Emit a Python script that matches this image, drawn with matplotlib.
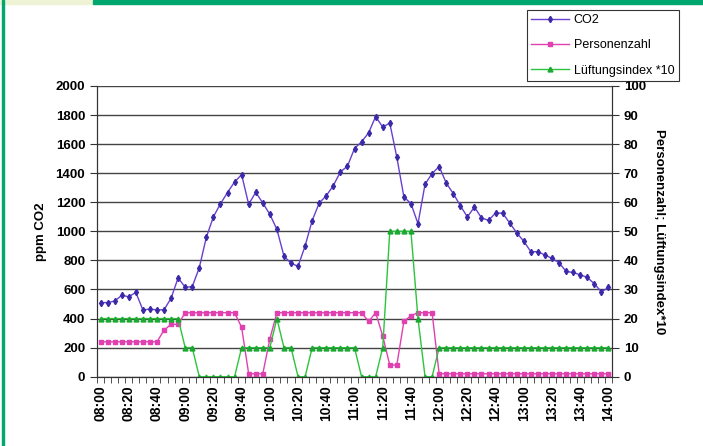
import numpy as np
import matplotlib.pyplot as plt
import matplotlib as mpl
from matplotlib import patches

mpl.rcParams['font.family'] = ['Liberation Sans', 'DejaVu Sans']

# categories: every 5 minutes from 08:00 to 14:00
times = ['%02d:%02d' % (8 + m // 60, m % 60) for m in range(0, 361, 5)]

co2 = [510, 510, 520, 560, 550, 580, 460, 465, 460, 460,
       540, 680, 615, 620, 750, 960, 1100, 1190, 1267, 1340,
       1390, 1186, 1269, 1195, 1117, 1014, 830, 780, 760, 900,
       1074, 1195, 1245, 1315, 1409, 1448, 1570, 1616, 1678, 1790,
       1717, 1745, 1510, 1237, 1191, 1053, 1324, 1398, 1446, 1333,
       1260, 1177, 1099, 1168, 1092, 1076, 1126, 1126, 1057, 990,
       931, 860, 860, 837, 814, 784, 724, 717, 701, 683,
       639, 584, 614]

personen = [12, 12, 12, 12, 12, 12, 12, 12, 12, 16,
            18, 18, 22, 22, 22, 22, 22, 22, 22, 22,
            17, 1, 1, 1, 13, 22, 22, 22, 22, 22,
            22, 22, 22, 22, 22, 22, 22, 22, 19, 22,
            14, 4, 4, 19, 21, 22, 22, 22] + [1] * 25

lueftung = [20] * 12 + [10, 10] + [0] * 6 + [10] * 5 + [20, 10, 10, 0, 0] \
           + [10] * 7 + [0, 0, 0, 10, 50, 50, 50, 50, 20, 0, 0] + [10] * 25

x = np.arange(len(times))

fig = plt.figure(figsize=(7.03, 4.46), dpi=100)
ax = fig.add_axes([97/703, 1-376.7/446, (612-97)/703, (376.7-86)/446])
ax2 = ax.twinx()

c_co2 = '#6a3fd0'
c_pers = '#e040b0'
c_lue = '#2cc43c'

l1, = ax.plot(x, co2, color=c_co2, lw=1, marker='d', ms=3.2, mfc='#3a2aa8', mec='#3a2aa8', label='CO2')
l2, = ax2.plot(x, personen, color=c_pers, lw=1, marker='s', ms=3.5, mfc=c_pers, mec=c_pers, label='Personenzahl')
l3, = ax2.plot(x, lueftung, color=c_lue, lw=1, marker='^', ms=3.5, mfc='#1aa830', mec='#1aa830', label='Lüftungsindex *10')

ax.set_ylim(0, 2000)
ax2.set_ylim(0, 100)
ax.set_xlim(-0.5, len(times) - 0.5)
ax.set_yticks(np.arange(0, 2001, 200))
ax2.set_yticks(np.arange(0, 101, 10))
ax.yaxis.grid(True, color='#444444', lw=1)
ax.set_axisbelow(True)

ax.set_xticks(x[::4])
ax.set_xticklabels(times[::4], rotation=90, fontsize=10, fontweight='bold')
ax.set_xticks(np.arange(-0.5, len(times), 1), minor=True)
ax.tick_params(axis='x', which='major', length=0, pad=6)
ax.tick_params(axis='x', which='minor', length=4, direction='out', color='#333333')
for a in (ax, ax2):
    a.tick_params(axis='y', length=5, direction='out', labelsize=9.5, color='#333333')
    for lab in a.get_yticklabels():
        lab.set_fontweight('bold')
    a.spines['top'].set_visible(False)
    for s in ('left', 'right', 'bottom'):
        a.spines[s].set_color('#333333')

ax.set_ylabel('ppm CO2', fontsize=9.5, fontweight='bold', labelpad=6)
ax2.set_ylabel('Personenzahl; Lüftungsindex*10', fontsize=9.5, fontweight='bold', rotation=270, labelpad=14)

leg = fig.legend(handles=[l1, l2, l3], loc='upper left', bbox_to_anchor=(527/703, 1-10/446),
                 fontsize=9, frameon=True, fancybox=False, edgecolor='black',
                 handlelength=3.0, handletextpad=0.4, borderpad=0.35, labelspacing=1.05,
                 borderaxespad=0)
leg.get_frame().set_linewidth(0.8)

# page decoration
fig.patches.append(patches.Rectangle((0, 1-4/446), 93/703, 4/446, transform=fig.transFigure, color='#eef3d6', zorder=0))
fig.patches.append(patches.Rectangle((93/703, 1-4/446), 1, 4/446, transform=fig.transFigure, color='#00a870', zorder=0))
fig.patches.append(patches.Rectangle((2/703, 0), 2/703, 1, transform=fig.transFigure, color='#00a870', zorder=0))

plt.savefig('out.png', dpi=100)
